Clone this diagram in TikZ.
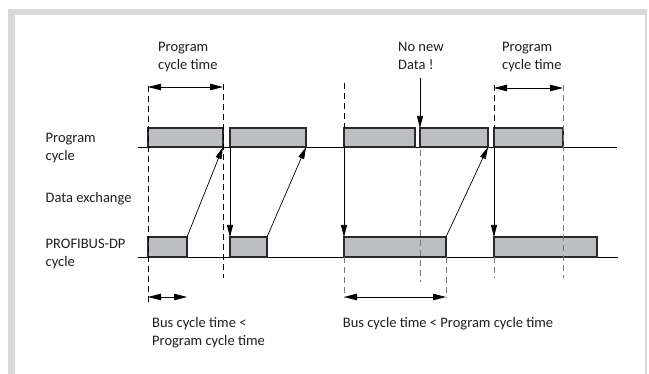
\documentclass[tikz,border=0pt]{standalone}
\usepackage{fontspec}
\setmainfont{Carlito}
\usetikzlibrary{arrows.meta}
\definecolor{framegray}{HTML}{D9D9D9}
\definecolor{boxfill}{HTML}{BDBEC1}
\definecolor{boxline}{HTML}{2A2A2A}
\definecolor{guidegray}{HTML}{7A7A7A}
\definecolor{txt}{HTML}{1E1E1E}
\begin{document}
\begin{tikzpicture}[x=1pt,y=-1pt,
  pbox/.style={draw=boxline,fill=boxfill,line width=1.3pt,outer sep=0pt,inner sep=0pt,anchor=south west},
  base/.style={draw=black,line width=0.7pt},
  guide/.style={draw=black,line width=0.8pt,dash pattern=on 6pt off 4pt},
  guideg/.style={draw=guidegray,line width=0.9pt,dash pattern=on 6pt off 4pt},
  arr/.style={draw=black,line width=0.7pt,-{Triangle[length=12pt,width=6pt]}},
  darr/.style={draw=black,line width=0.8pt,{Triangle[length=13pt,width=6.5pt]}-{Triangle[length=13pt,width=6.5pt]}},
  lbl/.style={inner sep=0pt,anchor=base west,text=txt,font=\fontsize{14.5}{18}\selectfont}
]
\useasboundingbox (0,0) rectangle (649,374);
% frame
\fill[framegray] (8,9) rectangle (647,374);
\fill[white] (15,15) rectangle (645,374);

% time axes
\coordinate (pa0) at (138,147);
\coordinate (pa1) at (617,147);
\coordinate (ba0) at (138,257);
\coordinate (ba1) at (618,257);
\draw[base] (pa0) -- (pa1);
\draw[base] (ba0) -- (ba1);

% program cycle boxes
\node[pbox,minimum width=75pt,minimum height=19pt] (p1) at (148,147) {};
\node[pbox,minimum width=76pt,minimum height=19pt] (p2) at (230,147) {};
\node[pbox,minimum width=71pt,minimum height=19pt] (p3) at (344,147) {};
\node[pbox,minimum width=68pt,minimum height=19pt] (p4) at (420,147) {};
\node[pbox,minimum width=69pt,minimum height=19pt] (p5) at (494,147) {};

% PROFIBUS boxes
\node[pbox,minimum width=39pt,minimum height=20pt] (b1) at (148,257) {};
\node[pbox,minimum width=37pt,minimum height=20pt] (b2) at (230,257) {};
\node[pbox,minimum width=102pt,minimum height=20pt] (b3) at (344,257) {};
\node[pbox,minimum width=103pt,minimum height=20pt] (b4) at (494,257) {};

% dashed guides
\draw[guide] (148,86) -- (148,303);
\draw[guide] (223,84) -- (223,278);
\draw[guide] (344,83) -- (p3.north west);
\draw[guideg] (b3.south west) -- (344,298);
\draw[guideg] (420,150) -- (420,282);
\draw[guideg] (b3.south east) -- (446,298);
\draw[guide] (494,85) -- (p5.north west);
\draw[guideg] (b4.south west) -- (494,278);
\draw[guideg] (563,85) -- (563,278);

% data exchange arrows
\draw[arr] (p2.south west) -- (b2.north west);
\draw[arr] (p3.south west) -- (b3.north west);
\draw[arr] (p5.south west) -- (b4.north west);
\draw[arr] (b1.north east) -- (p1.south east);
\draw[arr] (b2.north east) -- (p2.south east);
\draw[arr] (b3.north east) -- (p4.south east);

% dimension arrows
\coordinate (t1a) at (148,87);
\coordinate (t1b) at (223,87);
\coordinate (t2a) at (494,88);
\coordinate (t2b) at (563,88);
\coordinate (u1a) at (148,297);
\coordinate (u1b) at (187,297);
\coordinate (u2a) at (344,297);
\coordinate (u2b) at (446,297);
\draw[darr] (t1a) -- (t1b);
\draw[darr] (t2a) -- (t2b);
\draw[darr] (u1a) -- (u1b);
\draw[darr] (u2a) -- (u2b);

% no new data
\coordinate (nn) at (420,78);
\draw[arr] (nn) -- (p4.north west);

% labels
\node[lbl] (l1) at (158,51.7) {\begin{tabular}[t]{@{}l@{}}Program\\cycle time\end{tabular}};
\node[lbl] (l2) at (398,51.7) {\begin{tabular}[t]{@{}l@{}}No new\\Data !\end{tabular}};
\node[lbl] (l3) at (502,51.7) {\begin{tabular}[t]{@{}l@{}}Program\\cycle time\end{tabular}};
\node[lbl] (l4) at (45.5,142.5) {\begin{tabular}[t]{@{}l@{}}Program\\cycle\end{tabular}};
\node[lbl] (l5) at (45.5,202.5) {Data exchange};
\node[lbl] (l6) at (45.5,248.3) {\begin{tabular}[t]{@{}l@{}}PROFIBUS-DP\\cycle\end{tabular}};
\node[lbl] (l7) at (152,327.3) {\begin{tabular}[t]{@{}l@{}}Bus cycle time <\\[0.7pt]Program cycle time\end{tabular}};
\node[lbl] (l8) at (342.7,327.3) {Bus cycle time < Program cycle time};
\end{tikzpicture}
\end{document}
